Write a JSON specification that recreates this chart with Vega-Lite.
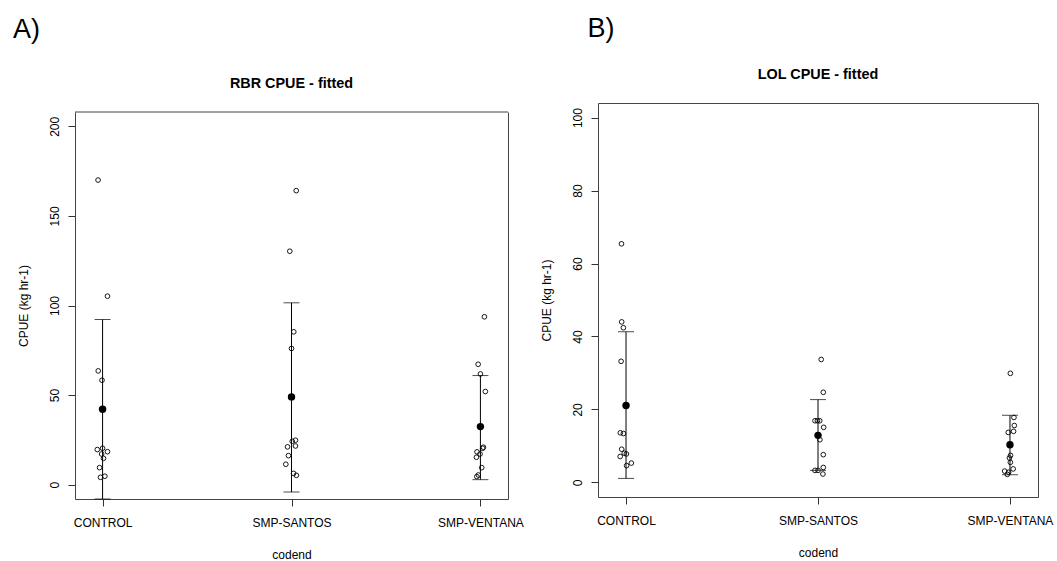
{
  "$schema": "https://vega.github.io/schema/vega-lite/v6.json",
  "background": "white",
  "padding": {"left": 12, "top": 15, "right": 0, "bottom": 0},
  "datasets": {
    "rbrPts": [
      {"codend": "CONTROL", "cpue": 170.0, "jitter": -0.024},
      {"codend": "CONTROL", "cpue": 105.2, "jitter": 0.026},
      {"codend": "CONTROL", "cpue": 63.5, "jitter": -0.023},
      {"codend": "CONTROL", "cpue": 58.3, "jitter": -0.003},
      {"codend": "CONTROL", "cpue": 19.6, "jitter": -0.028},
      {"codend": "CONTROL", "cpue": 20.3, "jitter": 0.0},
      {"codend": "CONTROL", "cpue": 18.4, "jitter": 0.026},
      {"codend": "CONTROL", "cpue": 17.1, "jitter": -0.005},
      {"codend": "CONTROL", "cpue": 14.7, "jitter": 0.005},
      {"codend": "CONTROL", "cpue": 9.5, "jitter": -0.016},
      {"codend": "CONTROL", "cpue": 4.1, "jitter": -0.011},
      {"codend": "CONTROL", "cpue": 4.7, "jitter": 0.012},
      {"codend": "SMP-SANTOS", "cpue": 164.1, "jitter": 0.025},
      {"codend": "SMP-SANTOS", "cpue": 130.3, "jitter": -0.009},
      {"codend": "SMP-SANTOS", "cpue": 85.3, "jitter": 0.012},
      {"codend": "SMP-SANTOS", "cpue": 76.0, "jitter": 0.0},
      {"codend": "SMP-SANTOS", "cpue": 24.8, "jitter": 0.021},
      {"codend": "SMP-SANTOS", "cpue": 24.2, "jitter": 0.004},
      {"codend": "SMP-SANTOS", "cpue": 21.1, "jitter": -0.021},
      {"codend": "SMP-SANTOS", "cpue": 21.6, "jitter": 0.021},
      {"codend": "SMP-SANTOS", "cpue": 16.2, "jitter": -0.016},
      {"codend": "SMP-SANTOS", "cpue": 11.4, "jitter": -0.03},
      {"codend": "SMP-SANTOS", "cpue": 6.3, "jitter": 0.011},
      {"codend": "SMP-SANTOS", "cpue": 5.2, "jitter": 0.026},
      {"codend": "SMP-VENTANA", "cpue": 93.7, "jitter": 0.021},
      {"codend": "SMP-VENTANA", "cpue": 67.2, "jitter": -0.012},
      {"codend": "SMP-VENTANA", "cpue": 61.8, "jitter": 0.0},
      {"codend": "SMP-VENTANA", "cpue": 52.0, "jitter": 0.026},
      {"codend": "SMP-VENTANA", "cpue": 20.9, "jitter": 0.016},
      {"codend": "SMP-VENTANA", "cpue": 20.3, "jitter": 0.012},
      {"codend": "SMP-VENTANA", "cpue": 18.3, "jitter": -0.018},
      {"codend": "SMP-VENTANA", "cpue": 17.1, "jitter": -0.002},
      {"codend": "SMP-VENTANA", "cpue": 15.3, "jitter": -0.021},
      {"codend": "SMP-VENTANA", "cpue": 9.5, "jitter": 0.007},
      {"codend": "SMP-VENTANA", "cpue": 5.4, "jitter": -0.011},
      {"codend": "SMP-VENTANA", "cpue": 4.5, "jitter": -0.019}
    ],
    "rbrFit": [
      {"codend": "CONTROL", "fit": 42.1, "lwr": -8.0, "upr": 92.2},
      {"codend": "SMP-SANTOS", "fit": 49.0, "lwr": -4.1, "upr": 101.5},
      {"codend": "SMP-VENTANA", "fit": 32.4, "lwr": 2.8, "upr": 60.9}
    ],
    "lolPts": [
      {"codend": "CONTROL", "cpue": 65.4, "jitter": -0.024},
      {"codend": "CONTROL", "cpue": 44.0, "jitter": -0.023},
      {"codend": "CONTROL", "cpue": 42.4, "jitter": -0.014},
      {"codend": "CONTROL", "cpue": 33.2, "jitter": -0.026},
      {"codend": "CONTROL", "cpue": 13.6, "jitter": -0.03},
      {"codend": "CONTROL", "cpue": 13.4, "jitter": -0.014},
      {"codend": "CONTROL", "cpue": 9.1, "jitter": -0.023},
      {"codend": "CONTROL", "cpue": 7.1, "jitter": -0.031},
      {"codend": "CONTROL", "cpue": 8.0, "jitter": -0.009},
      {"codend": "CONTROL", "cpue": 7.8, "jitter": 0.002},
      {"codend": "CONTROL", "cpue": 4.6, "jitter": 0.003},
      {"codend": "CONTROL", "cpue": 5.3, "jitter": 0.028},
      {"codend": "SMP-SANTOS", "cpue": 33.7, "jitter": 0.017},
      {"codend": "SMP-SANTOS", "cpue": 24.7, "jitter": 0.028},
      {"codend": "SMP-SANTOS", "cpue": 16.9, "jitter": -0.016},
      {"codend": "SMP-SANTOS", "cpue": 16.9, "jitter": -0.003},
      {"codend": "SMP-SANTOS", "cpue": 16.9, "jitter": 0.009},
      {"codend": "SMP-SANTOS", "cpue": 15.1, "jitter": 0.03},
      {"codend": "SMP-SANTOS", "cpue": 11.7, "jitter": 0.01},
      {"codend": "SMP-SANTOS", "cpue": 7.6, "jitter": 0.028},
      {"codend": "SMP-SANTOS", "cpue": 4.1, "jitter": 0.028},
      {"codend": "SMP-SANTOS", "cpue": 3.3, "jitter": -0.016},
      {"codend": "SMP-SANTOS", "cpue": 3.3, "jitter": 0.0},
      {"codend": "SMP-SANTOS", "cpue": 2.3, "jitter": 0.026},
      {"codend": "SMP-VENTANA", "cpue": 29.9, "jitter": 0.002},
      {"codend": "SMP-VENTANA", "cpue": 17.8, "jitter": 0.021},
      {"codend": "SMP-VENTANA", "cpue": 15.6, "jitter": 0.023},
      {"codend": "SMP-VENTANA", "cpue": 14.0, "jitter": 0.019},
      {"codend": "SMP-VENTANA", "cpue": 13.7, "jitter": -0.009},
      {"codend": "SMP-VENTANA", "cpue": 7.4, "jitter": 0.003},
      {"codend": "SMP-VENTANA", "cpue": 6.7, "jitter": -0.003},
      {"codend": "SMP-VENTANA", "cpue": 5.5, "jitter": 0.002},
      {"codend": "SMP-VENTANA", "cpue": 3.7, "jitter": 0.017},
      {"codend": "SMP-VENTANA", "cpue": 3.1, "jitter": -0.028},
      {"codend": "SMP-VENTANA", "cpue": 2.8, "jitter": -0.007},
      {"codend": "SMP-VENTANA", "cpue": 2.2, "jitter": -0.014}
    ],
    "lolFit": [
      {"codend": "CONTROL", "fit": 21.1, "lwr": 1.1, "upr": 41.3},
      {"codend": "SMP-SANTOS", "fit": 12.9, "lwr": 3.3, "upr": 22.7},
      {"codend": "SMP-VENTANA", "fit": 10.3, "lwr": 2.1, "upr": 18.4}
    ]
  },
  "spacing": 15,
  "hconcat": [
    {
      "title": {"text": "A)", "fontSize": 27, "fontWeight": "normal", "anchor": "start", "frame": "bounds", "offset": 32, "dx": -4, "color": "#000"},
      "vconcat": [
        {
          "title": {"text": "RBR CPUE - fitted", "fontSize": 14.4, "fontWeight": "bold", "anchor": "middle", "frame": "group", "offset": 12, "color": "#000"},
          "width": 433,
          "height": 396,
          "view": {"stroke": null},
          "resolve": {"axis": {"y": "independent"}},
          "encoding": {
            "x": {"field": "codend", "type": "nominal", "sort": ["CONTROL", "SMP-SANTOS", "SMP-VENTANA"],
                  "scale": {"type": "point", "padding": 0.146},
                  "axis": {"title": "codend", "labelAngle": 0, "domain": true, "domainColor": "#444", "domainWidth": 1, "ticks": true, "tickSize": 7, "tickColor": "#333", "tickWidth": 1}}
          },
          "layer": [
            {
              "data": {"values": [{}]},
              "mark": {"type": "rule", "color": "#444", "strokeWidth": 1},
              "encoding": {
                "x": null,
                "y": {"datum": 208, "type": "quantitative",
                      "axis": {"orient": "right", "labels": false, "ticks": false, "title": null, "domain": true, "domainColor": "#444", "domainWidth": 1}}
              }
            },
            {
              "data": {"name": "rbrFit"},
              "mark": {"type": "rule", "color": "#000", "strokeWidth": 1},
              "encoding": {
                "y": {"field": "lwr", "type": "quantitative", "title": "CPUE (kg hr-1)", "scale": {"domain": [-8, 208], "range": [396, 9], "nice": false, "zero": false},
                      "axis": {"orient": "left", "values": [0, 50, 100, 150, 200], "domain": true, "domainColor": "#444", "domainWidth": 1, "ticks": true, "tickSize": 7, "tickColor": "#333", "tickWidth": 1}},
                "y2": {"field": "upr"}
              }
            },
            {
              "data": {"name": "rbrFit"},
              "mark": {"type": "tick", "color": "#000", "thickness": 1, "size": 16},
              "encoding": {"y": {"field": "upr", "type": "quantitative", "axis": null}}
            },
            {
              "data": {"name": "rbrFit"},
              "mark": {"type": "tick", "color": "#000", "thickness": 1, "size": 16},
              "encoding": {"y": {"field": "lwr", "type": "quantitative", "axis": null}}
            },
            {
              "data": {"name": "rbrPts"},
              "mark": {"type": "point", "shape": "circle", "filled": false, "color": "#000", "strokeWidth": 0.9, "size": 22, "opacity": 1},
              "encoding": {
                "xOffset": {"field": "jitter", "type": "quantitative", "scale": {"domain": [-1, 1], "range": [-189, 189]}},
                "y": {"field": "cpue", "type": "quantitative", "axis": null}
              }
            },
            {
              "data": {"name": "rbrFit"},
              "mark": {"type": "circle", "color": "#000", "size": 55, "opacity": 1},
              "encoding": {"y": {"field": "fit", "type": "quantitative", "axis": null}}
            }
          ]
        }
      ]
    },
    {
      "title": {"text": "B)", "fontSize": 27, "fontWeight": "normal", "anchor": "start", "frame": "bounds", "offset": 23, "dx": 48, "color": "#000"},
      "vconcat": [
        {
          "title": {"text": "LOL CPUE - fitted", "fontSize": 14.4, "fontWeight": "bold", "anchor": "middle", "frame": "group", "offset": 21, "color": "#000"},
          "width": 440,
          "height": 394,
          "encoding": {
            "x": {"field": "codend", "type": "nominal", "sort": ["CONTROL", "SMP-SANTOS", "SMP-VENTANA"],
                  "scale": {"type": "point", "padding": 0.146},
                  "axis": {"title": "codend", "labelAngle": 0, "ticks": true, "tickSize": 7, "tickColor": "#333", "tickWidth": 1}}
          },
          "layer": [
            {
              "data": {"name": "lolFit"},
              "mark": {"type": "rule", "color": "#000", "strokeWidth": 1},
              "encoding": {
                "y": {"field": "lwr", "type": "quantitative", "title": "CPUE (kg hr-1)", "scale": {"domain": [-4, 104], "nice": false, "zero": false},
                      "axis": {"values": [0, 20, 40, 60, 80, 100], "ticks": true, "tickSize": 7, "tickColor": "#333", "tickWidth": 1}},
                "y2": {"field": "upr"}
              }
            },
            {
              "data": {"name": "lolFit"},
              "mark": {"type": "tick", "color": "#000", "thickness": 1, "size": 16},
              "encoding": {"y": {"field": "upr", "type": "quantitative", "title": "CPUE (kg hr-1)"}}
            },
            {
              "data": {"name": "lolFit"},
              "mark": {"type": "tick", "color": "#000", "thickness": 1, "size": 16},
              "encoding": {"y": {"field": "lwr", "type": "quantitative", "title": "CPUE (kg hr-1)"}}
            },
            {
              "data": {"name": "lolPts"},
              "mark": {"type": "point", "shape": "circle", "filled": false, "color": "#000", "strokeWidth": 0.9, "size": 22, "opacity": 1},
              "encoding": {
                "xOffset": {"field": "jitter", "type": "quantitative", "scale": {"domain": [-1, 1], "range": [-192, 192]}},
                "y": {"field": "cpue", "type": "quantitative", "title": "CPUE (kg hr-1)"}
              }
            },
            {
              "data": {"name": "lolFit"},
              "mark": {"type": "circle", "color": "#000", "size": 55, "opacity": 1},
              "encoding": {"y": {"field": "fit", "type": "quantitative", "title": "CPUE (kg hr-1)"}}
            }
          ]
        }
      ]
    }
  ],
  "config": {
    "font": "Liberation Sans",
    "view": {"stroke": "#444", "strokeWidth": 1},
    "title": {"font": "Liberation Sans"},
    "axis": {
      "domain": false, "grid": false,
      "labelFont": "Liberation Sans", "labelFontSize": 12, "labelColor": "#000",
      "titleFont": "Liberation Sans", "titleFontSize": 12, "titleFontWeight": "normal", "titleColor": "#000"
    },
    "axisX": {"labelPadding": 11, "labelBaseline": "top", "titlePadding": 21},
    "axisY": {"labelAngle": -90, "labelAlign": "center", "labelBaseline": "bottom", "labelPadding": 7, "titlePadding": 18}
  }
}
